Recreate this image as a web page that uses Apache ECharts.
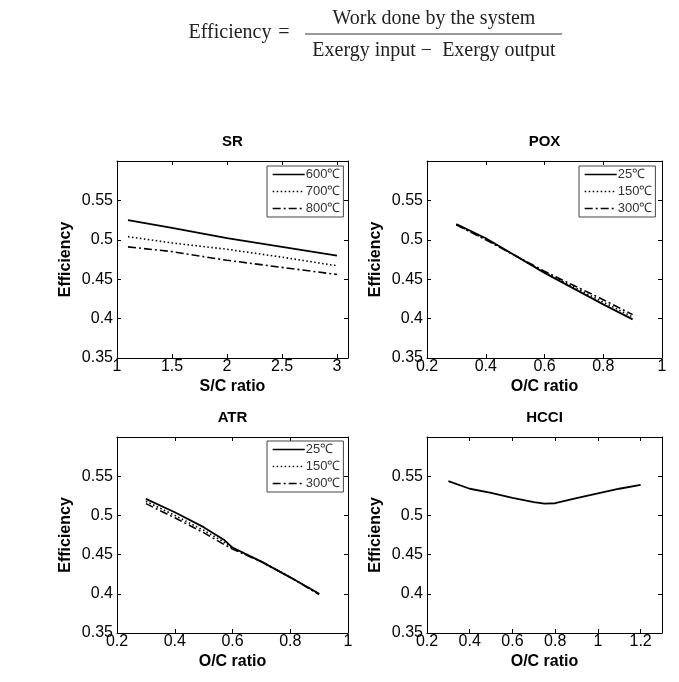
<!DOCTYPE html>
<html>
<head>
<meta charset="utf-8">
<script src="https://cdn.jsdelivr.net/npm/echarts@6/dist/echarts.min.js"></script>
<style>html,body{margin:0;padding:0;background:#fff;}#c{width:679px;height:682px;}</style>
</head>
<body>
<div id="c"></div>
<script>
// ---- data ----
const eqLeft = 'Efficiency';
const eqNumerator = 'Work done by the system';
const eqDenominator = 'Exergy input \u2212  Exergy output';

const titles = ['SR', 'POX', 'ATR', 'HCCI'];
const xNames = ['S/C ratio', 'O/C ratio', 'O/C ratio', 'O/C ratio'];
const yName = 'Efficiency';

const srX = [1.1, 1.5, 2, 2.5, 3];
const sr600 = [0.525, 0.515, 0.502, 0.491, 0.480];
const sr700 = [0.504, 0.496, 0.488, 0.478, 0.467];
const sr800 = [0.491, 0.485, 0.474, 0.465, 0.456];
const srNames = ['600\u2103', '700\u2103', '800\u2103'];

const poxX = [0.3, 0.4, 0.5, 0.6, 0.7, 0.8, 0.9];
const pox25 = [0.520, 0.502, 0.480, 0.458, 0.438, 0.418, 0.399];
const pox150 = [0.519, 0.501, 0.480, 0.459, 0.440, 0.421, 0.402];
const pox300 = [0.519, 0.500, 0.480, 0.460, 0.442, 0.424, 0.405];
const tNames = ['25\u2103', '150\u2103', '300\u2103'];

const atrX = [0.3, 0.4, 0.5, 0.57, 0.6, 0.7, 0.8, 0.9];
const atr25 = [0.521, 0.504, 0.485, 0.469, 0.459, 0.441, 0.421, 0.400];
const atr150 = [0.518, 0.500, 0.481, 0.466, 0.458, 0.441, 0.421, 0.400];
const atr300 = [0.515, 0.497, 0.478, 0.463, 0.457, 0.441, 0.421, 0.399];

const hcciX = [0.3, 0.4, 0.5, 0.6, 0.7, 0.75, 0.8, 0.9, 1.0, 1.1, 1.2];
const hcciY = [0.5436, 0.534, 0.5287, 0.5223, 0.517, 0.515, 0.5155, 0.522, 0.528, 0.534, 0.539];

const xRanges = [[1, 3.1, 0.5], [0.2, 1, 0.2], [0.2, 1, 0.2], [0.2, 1.3, 0.2]];
const yRange = [0.35, 0.6, 0.05];

// ---- layout ----
const grids = [
  {left: 117, top: 161, width: 231, height: 197},
  {left: 427, top: 161, width: 235, height: 197},
  {left: 117, top: 437, width: 231, height: 196},
  {left: 427, top: 437, width: 235, height: 196}
];
const sans = 'Liberation Sans, Arial, sans-serif';
const serif = 'Liberation Serif, Times New Roman, serif';

const dashStyles = ['solid', [1.5, 2.5], [8, 3, 2, 3]];

function zip(xs, ys) { return xs.map((x, i) => [x, ys[i]]); }

const xAxes = [], yAxes = [];
grids.forEach((g, i) => {
  const [xmin, xmax, xint] = xRanges[i];
  xAxes.push({
    type: 'value', gridIndex: i, min: xmin, max: xmax, interval: xint,
    axisLine: {show: true, onZero: false, lineStyle: {color: '#000', width: 1}},
    axisTick: {show: true, inside: true, length: 4, lineStyle: {color: '#000'}},
    axisLabel: {fontSize: 16, color: '#000', fontFamily: sans, margin: 1, showMaxLabel: i === 1 || i === 2},
    splitLine: {show: false},
    name: xNames[i], nameLocation: 'middle', nameGap: 21,
    nameTextStyle: {fontSize: 16, fontWeight: 'bold', color: '#000', fontFamily: sans}
  });
  yAxes.push({
    type: 'value', gridIndex: i, min: yRange[0], max: yRange[1], interval: yRange[2],
    axisLine: {show: true, onZero: false, lineStyle: {color: '#000', width: 1}},
    axisTick: {show: true, inside: true, length: 4, lineStyle: {color: '#000'}},
    axisLabel: {fontSize: 16, color: '#000', fontFamily: sans, margin: 4, showMaxLabel: false},
    splitLine: {show: false},
    name: yName, nameLocation: 'middle', nameGap: 43, nameRotate: 90,
    nameTextStyle: {fontSize: 16, fontWeight: 'bold', color: '#000', fontFamily: sans}
  });
});
grids.forEach((g, i) => {
  const [xmin, xmax, xint] = xRanges[i];
  xAxes.push({
    type: 'value', gridIndex: i, position: 'top', min: xmin, max: xmax, interval: xint,
    axisLine: {show: true, onZero: false, lineStyle: {color: '#000', width: 1}},
    axisTick: {show: true, inside: true, length: 4, lineStyle: {color: '#000'}},
    axisLabel: {show: false}, splitLine: {show: false}
  });
  yAxes.push({
    type: 'value', gridIndex: i, position: 'right', min: yRange[0], max: yRange[1], interval: yRange[2],
    axisLine: {show: true, onZero: false, lineStyle: {color: '#000', width: 1}},
    axisTick: {show: true, inside: true, length: 4, lineStyle: {color: '#000'}},
    axisLabel: {show: false}, splitLine: {show: false}
  });
});

function line(name, idx, xs, ys, dash) {
  return {
    type: 'line', name: name, xAxisIndex: idx, yAxisIndex: idx,
    data: zip(xs, ys), symbol: 'none', animation: false, silent: true,
    lineStyle: {color: '#000', width: dash === 'solid' ? 1.8 : 1.6, type: dash},
    itemStyle: {color: '#000'}
  };
}

const series = [
  line(srNames[0], 0, srX, sr600, dashStyles[0]),
  line(srNames[1], 0, srX, sr700, dashStyles[1]),
  line(srNames[2], 0, srX, sr800, dashStyles[2]),
  line(tNames[0], 1, poxX, pox25, dashStyles[0]),
  line(tNames[1], 1, poxX, pox150, dashStyles[1]),
  line(tNames[2], 1, poxX, pox300, dashStyles[2]),
  line(tNames[0], 2, atrX, atr25, dashStyles[0]),
  line(tNames[1], 2, atrX, atr150, dashStyles[1]),
  line(tNames[2], 2, atrX, atr300, dashStyles[2]),
  line('HCCI', 3, hcciX, hcciY, dashStyles[0])
];

function legend(names, left, top) {
  return {
    data: names, orient: 'vertical', left: left, top: top,
    itemWidth: 32, itemHeight: 12, itemGap: 4, padding: [2, 3, 2, 5],
    borderColor: '#444', borderWidth: 1, backgroundColor: '#fff',
    selectedMode: false,
    itemStyle: {opacity: 0, borderWidth: 0},
    lineStyle: {width: 1.4},
    textStyle: {fontSize: 13, color: '#333', fontFamily: sans, padding: [0, 0, 0, -4]}
  };
}

const titleCfg = titles.map((t, i) => ({
  text: t, left: grids[i].left + grids[i].width / 2, top: grids[i].top - 27, textAlign: 'center', padding: 0,
  textStyle: {fontSize: 15, fontWeight: 'bold', color: '#000', fontFamily: sans}
}));

const option = {
  backgroundColor: '#fff',
  animation: false,
  title: titleCfg,
  grid: grids.map(g => Object.assign({containLabel: false}, g)),
  xAxis: xAxes,
  yAxis: yAxes,
  legend: [legend(srNames, 267, 166), legend(tNames, 579, 166), legend(tNames, 267, 441)],
  series: series,
  graphic: [
    {type: 'text', x: 230, y: 33, style: {text: eqLeft, fontSize: 20, fontFamily: serif, fill: '#222', textAlign: 'center', textVerticalAlign: 'middle'}},
    {type: 'text', x: 284, y: 33, style: {text: '=', fontSize: 20, fontFamily: serif, fill: '#222', textAlign: 'center', textVerticalAlign: 'middle'}},
    {type: 'line', shape: {x1: 305, y1: 34, x2: 562, y2: 34}, style: {stroke: '#333', lineWidth: 1}},
    {type: 'text', x: 434, y: 19, style: {text: eqNumerator, fontSize: 20, fontFamily: serif, fill: '#222', textAlign: 'center', textVerticalAlign: 'middle'}},
    {type: 'text', x: 434, y: 51, style: {text: eqDenominator, fontSize: 20, fontFamily: serif, fill: '#222', textAlign: 'center', textVerticalAlign: 'middle'}}
  ]
};
const chart = echarts.init(document.getElementById('c'), null, {renderer: 'canvas'});
chart.setOption(option);
</script>
</body>
</html>
